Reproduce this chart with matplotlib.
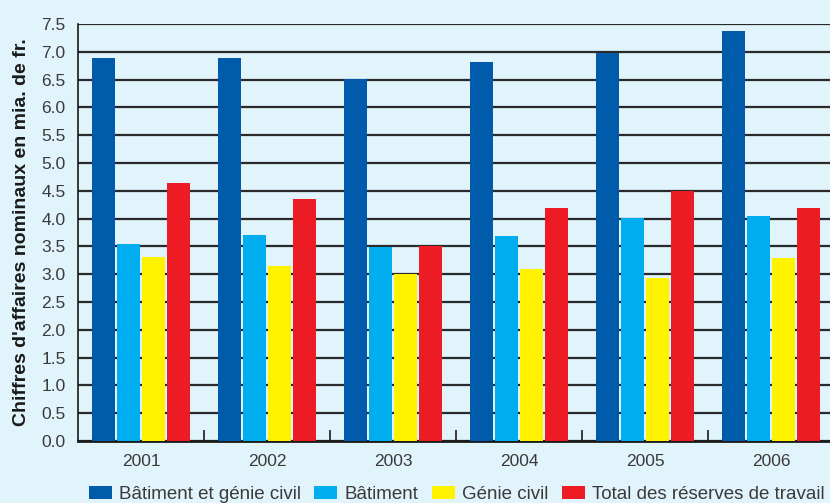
import matplotlib.pyplot as plt
import numpy as np

plt.rcParams['font.family'] = ['Liberation Sans', 'DejaVu Sans']

annees = ['2001', '2002', '2003', '2004', '2005', '2006']
series = ['Bâtiment et génie civil', 'Bâtiment', 'Génie civil',
          'Total des réserves de travail']
bat_gc = [6.89, 6.89, 6.51, 6.82, 6.98, 7.37]
batiment = [3.55, 3.70, 3.49, 3.69, 4.01, 4.05]
genie = [3.31, 3.15, 3.00, 3.09, 2.94, 3.29]
reserves = [4.64, 4.35, 3.51, 4.19, 4.50, 4.19]
couleurs = ['#005baa', '#00aeef', '#fff200', '#ed1c24']

fond = '#e1f3fb'
fig = plt.figure(figsize=(8.3, 5.03), dpi=100, facecolor=fond)
ax = fig.add_axes([78/830, 62/503, 756/830, 417/503])
ax.set_facecolor(fond)

x = np.arange(len(annees))
for i, (vals, nom) in enumerate(zip([bat_gc, batiment, genie, reserves], series)):
    ax.bar(x + (i - 1.5) * 0.2, vals, width=0.18, color=couleurs[i],
           label=nom, zorder=3)

ax.set_xlim(-0.5, len(annees) - 0.5)
ax.set_ylim(0, 7.5)
ax.set_yticks(np.arange(0, 7.51, 0.5))
ax.set_yticklabels([f'{v:.1f}' for v in np.arange(0, 7.51, 0.5)])
ax.set_xticks(x)
ax.set_xticklabels(annees)
ax.set_xticks(np.arange(0.5, len(annees) - 0.5, 1), minor=True)

ax.yaxis.grid(True, color='#2a2a2a', linewidth=1.6, zorder=1)
ax.set_axisbelow(True)
for s in ['top', 'right']:
    ax.spines[s].set_visible(False)
ax.spines['left'].set_linewidth(1.2)
ax.spines['bottom'].set_linewidth(2)
ax.spines['left'].set_color('#1a1a1a')
ax.spines['bottom'].set_color('#1a1a1a')

ax.tick_params(axis='y', length=0, pad=9, labelsize=12.5, labelcolor='#3a3a3a')
ax.tick_params(axis='x', which='major', length=0, pad=9, labelsize=12.5,
               labelcolor='#3a3a3a')
ax.tick_params(axis='x', which='minor', direction='in', length=8, width=1.2,
               color='#1a1a1a')

ax.set_ylabel("Chiffres d'affaires nominaux en mia. de fr.", fontsize=14,
              fontweight='bold', color='#1a1a1a', labelpad=8)

handles, labels = ax.get_legend_handles_labels()
fig.legend(handles, labels, loc='lower left', bbox_to_anchor=(72/830, -17/503),
           ncol=4, frameon=False, fontsize=13.5, handlelength=1.23,
           handleheight=0.64, handletextpad=0.37, columnspacing=0.72,
           labelcolor='#3a3a3a')

fig.savefig('out.png', dpi=100, facecolor=fond)
